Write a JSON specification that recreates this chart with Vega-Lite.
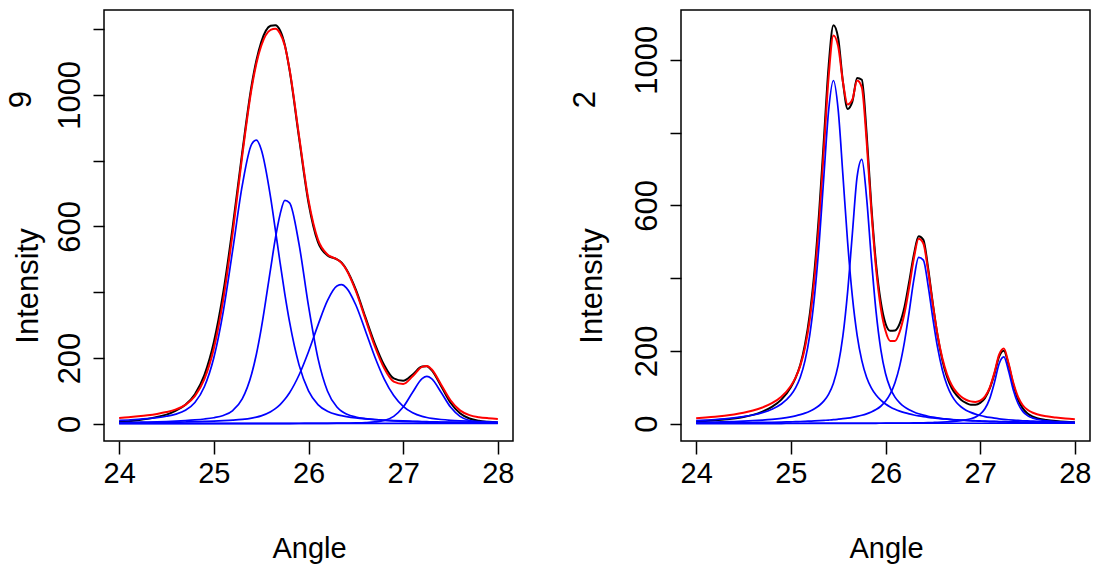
{
  "$schema": "https://vega.github.io/schema/vega-lite/v6.json",
  "background": "white",
  "padding": {"left": 5, "top": 9, "right": 0, "bottom": 0},
  "config": {
    "view": {"stroke": "black", "strokeWidth": 1.5},
    "font": "Liberation Sans",
    "axis": {
      "domain": false,
      "grid": false,
      "tickColor": "black",
      "tickWidth": 1.5,
      "labelColor": "black",
      "titleColor": "black",
      "labelFont": "Liberation Sans",
      "titleFont": "Liberation Sans",
      "titleFontWeight": "normal",
      "labelFontSize": 31,
      "titleFontSize": 31,
      "labelOverlap": false,
      "labelFlush": false
    },
    "axisX": {
      "tickSize": 13,
      "labelFontSize": 29, "labelBaseline": "alphabetic", "labelPadding": 28,
      "titleFontSize": 29, "titleBaseline": "alphabetic", "titleX": 205, "titleY": 116
    },
    "axisY": {
      "tickSize": 11,
      "labelAngle": -90, "labelAlign": "center", "labelBaseline": "alphabetic", "labelPadding": 13.5,
      "titleAngle": -90, "titleAlign": "center", "titleBaseline": "alphabetic", "titleY": 275.5
    },
    "title": {"font": "Liberation Sans", "fontSize": 31, "fontWeight": "normal", "color": "black"}
  },
  "datasets": {
    "left": [
      {"x": 24.0, "obs": 6, "fit": 17.8, "c1": 10.1, "c2": 3.7, "c3": 2.8, "c4": 0.2, "base": 1},
      {"x": 24.1, "obs": 8, "fit": 19.9, "c1": 11.6, "c2": 4.1, "c3": 3.0, "c4": 0.2, "base": 1},
      {"x": 24.2, "obs": 11, "fit": 22.6, "c1": 13.4, "c2": 4.7, "c3": 3.3, "c4": 0.2, "base": 1},
      {"x": 24.3, "obs": 15, "fit": 25.8, "c1": 15.7, "c2": 5.3, "c3": 3.6, "c4": 0.2, "base": 1},
      {"x": 24.4, "obs": 21, "fit": 30.0, "c1": 18.7, "c2": 6.1, "c3": 4.0, "c4": 0.2, "base": 1},
      {"x": 24.5, "obs": 28, "fit": 35.6, "c1": 22.9, "c2": 7.0, "c3": 4.4, "c4": 0.3, "base": 1},
      {"x": 24.6, "obs": 40, "fit": 43.8, "c1": 29.4, "c2": 8.2, "c3": 4.9, "c4": 0.3, "base": 1},
      {"x": 24.7, "obs": 58, "fit": 57.7, "c1": 41.1, "c2": 9.8, "c3": 5.5, "c4": 0.3, "base": 1},
      {"x": 24.8, "obs": 90, "fit": 84.1, "c1": 64.8, "c2": 11.8, "c3": 6.2, "c4": 0.3, "base": 1},
      {"x": 24.9, "obs": 148, "fit": 135.5, "c1": 112.6, "c2": 14.5, "c3": 7.1, "c4": 0.3, "base": 1},
      {"x": 25.0, "obs": 248, "fit": 228.7, "c1": 200.8, "c2": 18.5, "c3": 8.1, "c4": 0.3, "base": 1},
      {"x": 25.1, "obs": 400, "fit": 378.1, "c1": 341.9, "c2": 25.4, "c3": 9.4, "c4": 0.4, "base": 1},
      {"x": 25.2, "obs": 600, "fit": 582.3, "c1": 529.5, "c2": 40.3, "c3": 11.1, "c4": 0.4, "base": 1},
      {"x": 25.3, "obs": 825, "fit": 814.4, "c1": 724.0, "c2": 75.5, "c3": 13.5, "c4": 0.4, "base": 1},
      {"x": 25.4, "obs": 1030, "fit": 1021.1, "c1": 850.2, "c2": 152.0, "c3": 17.4, "c4": 0.5, "base": 1},
      {"x": 25.45, "obs": 1105, "fit": 1096.4, "c1": 862.3, "c2": 212.3, "c3": 20.3, "c4": 0.5, "base": 1},
      {"x": 25.5, "obs": 1160, "fit": 1148.6, "c1": 834.8, "c2": 288.0, "c3": 24.2, "c4": 0.6, "base": 1},
      {"x": 25.6, "obs": 1210, "fit": 1197.8, "c1": 687.7, "c2": 472.0, "c3": 36.5, "c4": 0.6, "base": 1},
      {"x": 25.65, "obs": 1212, "fit": 1200.9, "c1": 589.9, "c2": 563.4, "c3": 46.0, "c4": 0.6, "base": 1},
      {"x": 25.7, "obs": 1196, "fit": 1186.5, "c1": 489.6, "c2": 636.8, "c3": 58.4, "c4": 0.7, "base": 1},
      {"x": 25.75, "obs": 1152, "fit": 1149.5, "c1": 394.4, "c2": 679.0, "c3": 74.4, "c4": 0.7, "base": 1},
      {"x": 25.8, "obs": 1075, "fit": 1077.5, "c1": 309.6, "c2": 671.7, "c3": 94.4, "c4": 0.8, "base": 1},
      {"x": 25.9, "obs": 870, "fit": 875.6, "c1": 179.2, "c2": 546.2, "c3": 148.3, "c4": 0.9, "base": 1},
      {"x": 26.0, "obs": 672, "fit": 679.9, "c1": 100.4, "c2": 358.2, "c3": 219.2, "c4": 1.1, "base": 1},
      {"x": 26.1, "obs": 552, "fit": 559.8, "c1": 58.5, "c2": 198.9, "c3": 300.1, "c4": 1.3, "base": 1},
      {"x": 26.2, "obs": 512, "fit": 514.9, "c1": 38.1, "c2": 99.9, "c3": 374.4, "c4": 1.5, "base": 1},
      {"x": 26.3, "obs": 500, "fit": 500.2, "c1": 27.8, "c2": 50.9, "c3": 418.7, "c4": 1.8, "base": 1},
      {"x": 26.35, "obs": 490, "fit": 488.5, "c1": 24.6, "c2": 38.1, "c3": 422.8, "c4": 2.0, "base": 1},
      {"x": 26.4, "obs": 470, "fit": 468.6, "c1": 22.0, "c2": 29.9, "c3": 413.4, "c4": 2.3, "base": 1},
      {"x": 26.5, "obs": 408, "fit": 403.7, "c1": 18.0, "c2": 20.7, "c3": 361.1, "c4": 2.9, "base": 1},
      {"x": 26.6, "obs": 325, "fit": 319.6, "c1": 15.2, "c2": 15.9, "c3": 283.7, "c4": 3.8, "base": 1},
      {"x": 26.7, "obs": 244, "fit": 236.2, "c1": 13.0, "c2": 12.7, "c3": 203.9, "c4": 5.6, "base": 1},
      {"x": 26.8, "obs": 178, "fit": 168.9, "c1": 11.3, "c2": 10.5, "c3": 136.0, "c4": 10.1, "base": 1},
      {"x": 26.9, "obs": 138, "fit": 128.2, "c1": 9.8, "c2": 8.8, "c3": 85.9, "c4": 22.7, "base": 1},
      {"x": 27.0, "obs": 131, "fit": 121.1, "c1": 8.6, "c2": 7.5, "c3": 53.0, "c4": 51.0, "base": 1},
      {"x": 27.1, "obs": 150, "fit": 144.5, "c1": 7.7, "c2": 6.4, "c3": 33.5, "c4": 95.9, "base": 1},
      {"x": 27.2, "obs": 174, "fit": 173.1, "c1": 6.8, "c2": 5.6, "c3": 22.5, "c4": 137.2, "base": 1},
      {"x": 27.25, "obs": 175, "fit": 175.8, "c1": 6.5, "c2": 5.2, "c3": 19.1, "c4": 144.0, "base": 1},
      {"x": 27.3, "obs": 163, "fit": 165.7, "c1": 6.1, "c2": 4.9, "c3": 16.5, "c4": 137.2, "base": 1},
      {"x": 27.4, "obs": 115, "fit": 119.7, "c1": 5.5, "c2": 4.3, "c3": 13.0, "c4": 95.9, "base": 1},
      {"x": 27.5, "obs": 64, "fit": 71.6, "c1": 5.0, "c2": 3.9, "c3": 10.7, "c4": 51.0, "base": 1},
      {"x": 27.6, "obs": 32, "fit": 40.8, "c1": 4.6, "c2": 3.4, "c3": 9.1, "c4": 22.7, "base": 1},
      {"x": 27.7, "obs": 16, "fit": 26.3, "c1": 4.2, "c2": 3.1, "c3": 7.9, "c4": 10.1, "base": 1},
      {"x": 27.8, "obs": 9, "fit": 20.2, "c1": 3.9, "c2": 2.8, "c3": 6.9, "c4": 5.6, "base": 1},
      {"x": 27.9, "obs": 6, "fit": 17.0, "c1": 3.5, "c2": 2.6, "c3": 6.1, "c4": 3.8, "base": 1},
      {"x": 28.0, "obs": 4, "fit": 14.9, "c1": 3.3, "c2": 2.3, "c3": 5.4, "c4": 2.9, "base": 1}
    ],
    "right": [
      {"x": 24.0, "obs": 6, "fit": 14.7, "c1": 8.3, "c2": 3.5, "c3": 1.7, "c4": 0.2, "base": 1},
      {"x": 24.1, "obs": 7, "fit": 16.5, "c1": 9.6, "c2": 3.9, "c3": 1.8, "c4": 0.2, "base": 1},
      {"x": 24.2, "obs": 9, "fit": 18.7, "c1": 11.1, "c2": 4.4, "c3": 2.0, "c4": 0.2, "base": 1},
      {"x": 24.3, "obs": 11, "fit": 21.6, "c1": 13.1, "c2": 5.1, "c3": 2.2, "c4": 0.2, "base": 1},
      {"x": 24.4, "obs": 14, "fit": 25.1, "c1": 15.7, "c2": 5.8, "c3": 2.4, "c4": 0.2, "base": 1},
      {"x": 24.5, "obs": 18, "fit": 29.7, "c1": 19.0, "c2": 6.8, "c3": 2.7, "c4": 0.2, "base": 1},
      {"x": 24.6, "obs": 24, "fit": 35.8, "c1": 23.6, "c2": 8.0, "c3": 3.0, "c4": 0.2, "base": 1},
      {"x": 24.7, "obs": 33, "fit": 44.3, "c1": 30.1, "c2": 9.6, "c3": 3.4, "c4": 0.2, "base": 1},
      {"x": 24.8, "obs": 46, "fit": 56.2, "c1": 39.5, "c2": 11.7, "c3": 3.8, "c4": 0.2, "base": 1},
      {"x": 24.9, "obs": 66, "fit": 74.0, "c1": 53.9, "c2": 14.6, "c3": 4.3, "c4": 0.2, "base": 1},
      {"x": 25.0, "obs": 100, "fit": 103.5, "c1": 78.5, "c2": 18.7, "c3": 5.0, "c4": 0.3, "base": 1},
      {"x": 25.05, "obs": 126, "fit": 126.3, "c1": 98.3, "c2": 21.4, "c3": 5.3, "c4": 0.3, "base": 1},
      {"x": 25.1, "obs": 162, "fit": 159.4, "c1": 127.6, "c2": 24.7, "c3": 5.8, "c4": 0.3, "base": 1},
      {"x": 25.15, "obs": 218, "fit": 209.3, "c1": 173.0, "c2": 28.8, "c3": 6.2, "c4": 0.3, "base": 1},
      {"x": 25.2, "obs": 300, "fit": 285.6, "c1": 243.4, "c2": 34.0, "c3": 6.8, "c4": 0.4, "base": 1},
      {"x": 25.25, "obs": 420, "fit": 399.1, "c1": 349.5, "c2": 40.8, "c3": 7.4, "c4": 0.4, "base": 1},
      {"x": 25.3, "obs": 585, "fit": 557.6, "c1": 498.3, "c2": 49.8, "c3": 8.1, "c4": 0.4, "base": 1},
      {"x": 25.35, "obs": 785, "fit": 756.4, "c1": 683.6, "c2": 62.5, "c3": 8.9, "c4": 0.4, "base": 1},
      {"x": 25.4, "obs": 985, "fit": 955.4, "c1": 862.8, "c2": 81.3, "c3": 9.8, "c4": 0.5, "base": 1},
      {"x": 25.45, "obs": 1095, "fit": 1066.5, "c1": 943.0, "c2": 111.2, "c3": 10.8, "c4": 0.5, "base": 1},
      {"x": 25.5, "obs": 1060, "fit": 1037.2, "c1": 862.8, "c2": 160.7, "c3": 12.1, "c4": 0.6, "base": 1},
      {"x": 25.55, "obs": 940, "fit": 939.6, "c1": 683.6, "c2": 240.9, "c3": 13.5, "c4": 0.6, "base": 1},
      {"x": 25.6, "obs": 865, "fit": 877.3, "c1": 498.3, "c2": 362.2, "c3": 15.2, "c4": 0.6, "base": 1},
      {"x": 25.65, "obs": 885, "fit": 890.8, "c1": 349.5, "c2": 522.3, "c3": 17.3, "c4": 0.7, "base": 1},
      {"x": 25.7, "obs": 950, "fit": 943.0, "c1": 243.4, "c2": 678.0, "c3": 19.9, "c4": 0.7, "base": 1},
      {"x": 25.75, "obs": 945, "fit": 924.3, "c1": 173.0, "c2": 726.5, "c3": 23.0, "c4": 0.8, "base": 1},
      {"x": 25.8, "obs": 800, "fit": 778.3, "c1": 127.6, "c2": 622.0, "c3": 26.9, "c4": 0.8, "base": 1},
      {"x": 25.85, "obs": 600, "fit": 587.0, "c1": 98.3, "c2": 454.9, "c3": 31.9, "c4": 0.9, "base": 1},
      {"x": 25.9, "obs": 440, "fit": 427.2, "c1": 78.5, "c2": 308.3, "c3": 38.5, "c4": 0.9, "base": 1},
      {"x": 25.95, "obs": 335, "fit": 318.4, "c1": 64.4, "c2": 204.3, "c3": 47.7, "c4": 1.0, "base": 1},
      {"x": 26.0, "obs": 275, "fit": 255.0, "c1": 53.9, "c2": 137.8, "c3": 61.2, "c4": 1.1, "base": 1},
      {"x": 26.05, "obs": 255, "fit": 227.1, "c1": 45.9, "c2": 97.5, "c3": 81.5, "c4": 1.2, "base": 1},
      {"x": 26.1, "obs": 256, "fit": 227.1, "c1": 39.5, "c2": 72.8, "c3": 112.5, "c4": 1.3, "base": 1},
      {"x": 26.15, "obs": 275, "fit": 252.4, "c1": 34.3, "c2": 56.9, "c3": 158.8, "c4": 1.4, "base": 1},
      {"x": 26.2, "obs": 320, "fit": 302.5, "c1": 30.1, "c2": 45.9, "c3": 224.0, "c4": 1.5, "base": 1},
      {"x": 26.25, "obs": 390, "fit": 374.5, "c1": 26.6, "c2": 37.9, "c3": 307.3, "c4": 1.7, "base": 1},
      {"x": 26.3, "obs": 465, "fit": 454.8, "c1": 23.6, "c2": 31.8, "c3": 396.5, "c4": 1.9, "base": 1},
      {"x": 26.35, "obs": 515, "fit": 508.0, "c1": 21.1, "c2": 27.0, "c3": 456.8, "c4": 2.1, "base": 1},
      {"x": 26.4, "obs": 505, "fit": 494.9, "c1": 19.0, "c2": 23.3, "c3": 449.3, "c4": 2.3, "base": 1},
      {"x": 26.45, "obs": 428, "fit": 420.5, "c1": 17.2, "c2": 20.2, "c3": 379.5, "c4": 2.6, "base": 1},
      {"x": 26.5, "obs": 330, "fit": 326.9, "c1": 15.7, "c2": 17.7, "c3": 289.5, "c4": 3.0, "base": 1},
      {"x": 26.55, "obs": 242, "fit": 243.7, "c1": 14.3, "c2": 15.7, "c3": 209.3, "c4": 3.4, "base": 1},
      {"x": 26.6, "obs": 175, "fit": 180.1, "c1": 13.1, "c2": 13.9, "c3": 148.1, "c4": 4.0, "base": 1},
      {"x": 26.65, "obs": 128, "fit": 135.5, "c1": 12.1, "c2": 12.5, "c3": 105.2, "c4": 4.7, "base": 1},
      {"x": 26.7, "obs": 97, "fit": 105.5, "c1": 11.1, "c2": 11.2, "c3": 76.7, "c4": 5.5, "base": 1},
      {"x": 26.75, "obs": 78, "fit": 86.2, "c1": 10.3, "c2": 10.2, "c3": 58.0, "c4": 6.7, "base": 1},
      {"x": 26.8, "obs": 65, "fit": 73.7, "c1": 9.6, "c2": 9.3, "c3": 45.6, "c4": 8.2, "base": 1},
      {"x": 26.85, "obs": 57, "fit": 65.6, "c1": 8.9, "c2": 8.5, "c3": 37.0, "c4": 10.2, "base": 1},
      {"x": 26.9, "obs": 52, "fit": 61.1, "c1": 8.3, "c2": 7.8, "c3": 30.8, "c4": 13.2, "base": 1},
      {"x": 26.95, "obs": 52, "fit": 59.7, "c1": 7.8, "c2": 7.1, "c3": 26.0, "c4": 17.8, "base": 1},
      {"x": 27.0, "obs": 57, "fit": 63.0, "c1": 7.3, "c2": 6.6, "c3": 22.3, "c4": 25.8, "base": 1},
      {"x": 27.05, "obs": 70, "fit": 73.9, "c1": 6.8, "c2": 6.1, "c3": 19.3, "c4": 40.7, "base": 1},
      {"x": 27.1, "obs": 96, "fit": 98.0, "c1": 6.4, "c2": 5.7, "c3": 16.9, "c4": 68.0, "base": 1},
      {"x": 27.15, "obs": 136, "fit": 139.5, "c1": 6.1, "c2": 5.3, "c3": 14.9, "c4": 112.2, "base": 1},
      {"x": 27.2, "obs": 184, "fit": 189.5, "c1": 5.7, "c2": 4.9, "c3": 13.2, "c4": 164.7, "base": 1},
      {"x": 27.25, "obs": 200, "fit": 206.4, "c1": 5.4, "c2": 4.6, "c3": 11.8, "c4": 183.6, "base": 1},
      {"x": 27.3, "obs": 162, "fit": 165.6, "c1": 5.1, "c2": 4.3, "c3": 10.6, "c4": 144.6, "base": 1},
      {"x": 27.35, "obs": 108, "fit": 112.1, "c1": 4.9, "c2": 4.1, "c3": 9.6, "c4": 92.5, "base": 1},
      {"x": 27.4, "obs": 66, "fit": 73.3, "c1": 4.6, "c2": 3.8, "c3": 8.7, "c4": 55.2, "base": 1},
      {"x": 27.45, "obs": 42, "fit": 50.5, "c1": 4.4, "c2": 3.6, "c3": 7.9, "c4": 33.6, "base": 1},
      {"x": 27.5, "obs": 28, "fit": 37.9, "c1": 4.2, "c2": 3.4, "c3": 7.3, "c4": 22.0, "base": 1},
      {"x": 27.55, "obs": 20, "fit": 30.6, "c1": 4.0, "c2": 3.2, "c3": 6.7, "c4": 15.7, "base": 1},
      {"x": 27.6, "obs": 15, "fit": 25.8, "c1": 3.8, "c2": 3.0, "c3": 6.1, "c4": 11.9, "base": 1},
      {"x": 27.7, "obs": 10, "fit": 20.0, "c1": 3.5, "c2": 2.7, "c3": 5.3, "c4": 7.5, "base": 1},
      {"x": 27.8, "obs": 7, "fit": 16.5, "c1": 3.2, "c2": 2.5, "c3": 4.6, "c4": 5.2, "base": 1},
      {"x": 27.9, "obs": 5, "fit": 13.9, "c1": 2.9, "c2": 2.3, "c3": 4.0, "c4": 3.7, "base": 1},
      {"x": 28.0, "obs": 4, "fit": 12.1, "c1": 2.7, "c2": 2.1, "c3": 3.5, "c4": 2.8, "base": 1}
    ]
  },
  "spacing": 168,
  "bounds": "flush",
  "hconcat": [
    {
      "width": 409,
      "height": 431,
      "data": {"name": "left"},
      "title": {"text": "9", "orient": "left", "anchor": "end", "frame": "group", "dx": -81, "offset": -26},
      "transform": [{"fold": ["obs", "fit", "c1", "c2", "c3", "c4", "base"], "as": ["series", "value"]}],
      "encoding": {
        "x": {
          "field": "x", "type": "quantitative",
          "scale": {"domain": [23.84, 28.16], "nice": false, "zero": false},
          "axis": {"title": "Angle", "values": [24, 25, 26, 27, 28], "format": "d"}
        },
        "y": {
          "field": "value", "type": "quantitative",
          "scale": {"domain": [-52.3, 1258], "nice": false, "zero": false},
          "axis": {
            "values": [0, 200, 400, 600, 800, 1000, 1200], "format": "d",
            "labelExpr": "datum.value == 400 || datum.value == 800 || datum.value == 1200 ? '' : datum.label",
            "title": "Intensity", "titleX": -67
          }
        }
      },
      "layer": [
        {
          "transform": [{"filter": "datum.series == 'obs'"}],
          "mark": {"type": "line", "color": "black", "strokeWidth": 2, "interpolate": "monotone"}
        },
        {
          "transform": [{"filter": "datum.series == 'fit'"}],
          "mark": {"type": "line", "color": "#ff0000", "strokeWidth": 2, "interpolate": "monotone"}
        },
        {
          "transform": [{"filter": "datum.series != 'obs' && datum.series != 'fit'"}],
          "mark": {"type": "line", "color": "#0000ff", "strokeWidth": 1.7, "interpolate": "monotone"},
          "encoding": {"detail": {"field": "series", "type": "nominal"}}
        }
      ]
    },
    {
      "width": 409,
      "height": 431,
      "data": {"name": "right"},
      "title": {"text": "2", "orient": "left", "anchor": "end", "frame": "group", "dx": -81, "offset": -26},
      "transform": [{"fold": ["obs", "fit", "c1", "c2", "c3", "c4", "base"], "as": ["series", "value"]}],
      "encoding": {
        "x": {
          "field": "x", "type": "quantitative",
          "scale": {"domain": [23.84, 28.16], "nice": false, "zero": false},
          "axis": {"title": "Angle", "values": [24, 25, 26, 27, 28], "format": "d"}
        },
        "y": {
          "field": "value", "type": "quantitative",
          "scale": {"domain": [-47.8, 1136.8], "nice": false, "zero": false},
          "axis": {
            "values": [0, 200, 400, 600, 800, 1000], "format": "d",
            "labelExpr": "datum.value == 400 || datum.value == 800 ? '' : datum.label",
            "title": "Intensity", "titleX": -80
          }
        }
      },
      "layer": [
        {
          "transform": [{"filter": "datum.series == 'obs'"}],
          "mark": {"type": "line", "color": "black", "strokeWidth": 2, "interpolate": "monotone"}
        },
        {
          "transform": [{"filter": "datum.series == 'fit'"}],
          "mark": {"type": "line", "color": "#ff0000", "strokeWidth": 2, "interpolate": "monotone"}
        },
        {
          "transform": [{"filter": "datum.series != 'obs' && datum.series != 'fit'"}],
          "mark": {"type": "line", "color": "#0000ff", "strokeWidth": 1.7, "interpolate": "monotone"},
          "encoding": {"detail": {"field": "series", "type": "nominal"}}
        }
      ]
    }
  ]
}
